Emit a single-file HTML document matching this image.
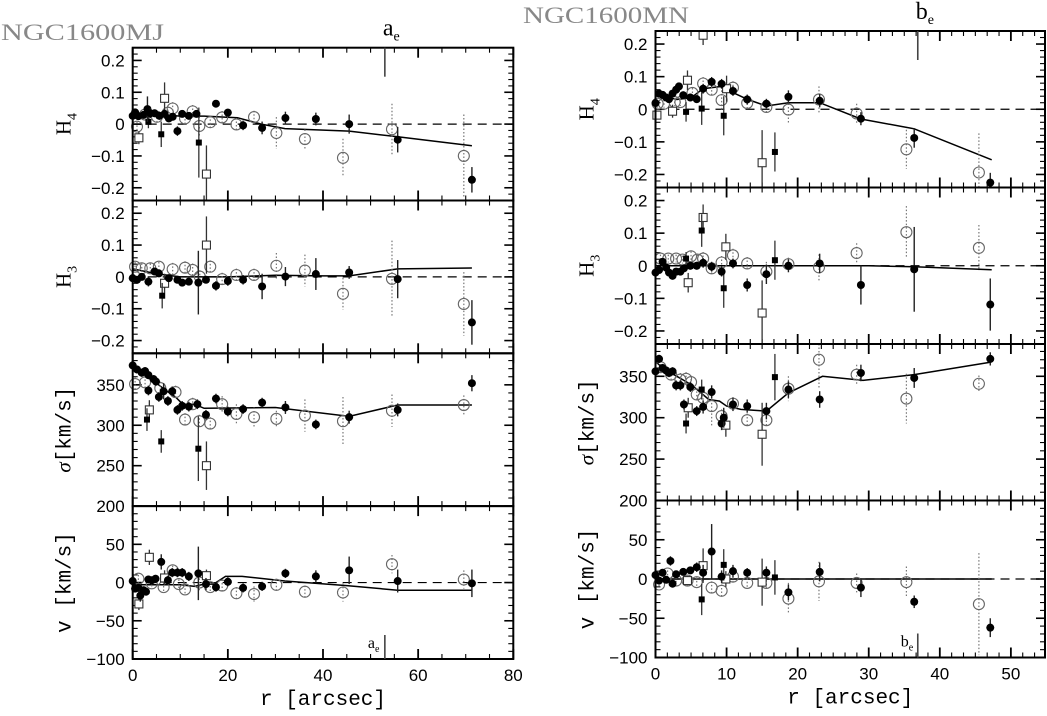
<!DOCTYPE html>
<html><head><meta charset="utf-8"><style>
body{margin:0;background:#fff}
svg{display:block}
</style></head><body>
<svg id="fig" width="1047" height="716" viewBox="0 0 1047 716" style="font-family:'Liberation Sans',sans-serif"></svg>
<script>
// ---- LEFT (NGC1600MJ) data: [r, value, err] ----
const LH4_filled=[[0,0.026,0.01],[0.5,0.037,0.01],[1.2,0.025,0.01],[2.3,0.029,0.012],[3.1,0.047,0.04],[3.7,0.034,0.015],[4.6,0.034,0.012],[5.6,0.026,0.012],[6.7,0.032,0.015],[7.6,0.018,0.012],[8.4,0.023,0.012],[9.4,-0.022,0.015],[10.4,0.032,0.01],[11.8,0.026,0.01],[13.4,0.032,0.01],[17.5,0.064,0.01],[20,0.036,0.012],[23.2,-0.004,0.015],[27.2,-0.012,0.02],[32.1,0.019,0.02],[38.5,0.016,0.02],[45.5,0,0.03],[55.7,-0.049,0.04],[71.3,-0.175,0.04]];
const LH4_fsq=[[3.3,0.007,0.02],[6,-0.032,0.04],[13.9,-0.058,0.11]];
const LH4_open=[[0.9,-0.008,0.015],[2.6,0.03,0.015],[5.1,0.023,0.02],[7.4,0.036,0.02],[8.4,0.049,0.02],[11,0.018,0.02],[12.6,0.04,0.02],[14,-0.006,0.03],[16.3,0.006,0.02],[18.8,0.021,0.02],[21.8,-0.001,0.02],[25.5,0.022,0.02],[30.2,-0.028,0.05],[36.2,-0.047,0.03],[44.2,-0.106,0.06],[54.5,-0.016,0.08],[69.6,-0.1,0.13]];
const LH4_osq=[[1.3,-0.043,0.02],[6.7,0.081,0.05],[15.5,-0.157,0.09]];
const LH4_model_r=[0,5,10,15,22,27,32,45.5,55.7,71.3];
const LH4_model_v=[0.03,0.03,0.025,0.025,0.02,0,-0.014,-0.022,-0.04,-0.068];

const LH3_filled=[[0,-0.004,0.01],[0.9,-0.009,0.01],[1.9,0,0.01],[3.3,-0.015,0.015],[4.6,0.017,0.01],[5.5,0.011,0.01],[7.6,-0.004,0.01],[9.4,-0.009,0.01],[10.4,-0.018,0.01],[11.8,-0.015,0.01],[13.8,-0.018,0.1],[15.4,-0.009,0.01],[17.5,-0.028,0.015],[20,-0.013,0.015],[23.2,-0.009,0.015],[27.2,-0.03,0.04],[32.1,0.001,0.03],[38.5,0.009,0.05],[45.5,0.014,0.02],[55.7,-0.007,0.06],[71.3,-0.143,0.07]];
const LH3_fsq=[[6.2,-0.059,0.04]];
const LH3_open=[[0.5,0.032,0.015],[1.9,0.027,0.015],[3.7,0.027,0.015],[5.5,0.032,0.015],[8.4,0.024,0.02],[11,0.029,0.02],[12.6,0.022,0.02],[14.1,0.001,0.02],[16.3,0.032,0.02],[18.8,-0.007,0.02],[21.8,0.006,0.02],[25.5,0.006,0.02],[30.2,0.035,0.04],[36.2,0.02,0.05],[44.2,-0.053,0.05],[54.5,-0.006,0.12],[69.6,-0.085,0.1]];
const LH3_osq=[[6.7,-0.02,0.03],[15.5,0.1,0.09]];
const LH3_model_r=[0,5,10,20,30,40,45.5,55.7,71.3];
const LH3_model_v=[0.025,0.01,0,0,0.005,0.003,0.003,0.025,0.028];

const LS_filled=[[0,374,5],[0.9,369,5],[1.9,365,5],[2.6,367,5],[3.3,362,5],[4.4,357,5],[4.9,354,5],[3.3,343,6],[5.5,335,6],[6.5,342,10],[7.4,330,6],[8.3,342,6],[9.4,319,6],[10.4,324,6],[11.8,323,6],[13.6,326,6],[15.4,313,6],[17.5,333,6],[20,317,6],[23.2,320,6],[27.2,328,6],[32.1,322,8],[38.5,301,6],[45.5,310,8],[55.7,319,8],[71.3,352,10]];
const LS_fsq=[[3,307,14],[6,280,14],[13.8,271,40]];
const LS_open=[[0.5,351,8],[2.6,353,8],[5.8,346,8],[9,341,8],[11,307,8],[12.6,326,8],[14,305,8],[16.3,302,8],[18.8,326,10],[21.8,314,12],[25.5,310,12],[30.2,308,10],[36.2,312,20],[44.2,305,30],[54.5,318,20],[69.6,325,12]];
const LS_osq=[[3.5,319,12],[15.5,250,30]];
const LS_model_r=[0,3,5,7,9,10.5,13,15,30,45.5,55.7,71.3];
const LS_model_v=[372,360,352,343,335,326,326,321,322,311,325,325];

const LV_filled=[[0,2,5],[0.5,-8,5],[1.2,-7,5],[1.6,-17,8],[2.3,-10,5],[2.8,-12,5],[3.3,4,5],[4,3,5],[4.8,5,5],[6,27,10],[7.4,3,6],[8.3,13,6],[9.4,13,6],[10.4,13,6],[11.8,8,6],[13.8,12,35],[15.4,-2,8],[17.5,-6,6],[20,1,6],[23.2,-7,6],[27.2,-5,6],[32.1,12,6],[38.5,8,8],[45.5,16,18],[55.7,2,15],[71.3,-1,18]];
const LV_open=[[1.2,5,5],[4,-1,5],[6.5,-6,6],[8.4,16,6],[9.7,-2,6],[11,-9,6],[14,0,10],[16.3,-6,6],[18.8,-4,8],[21.8,-14,8],[25.5,-15,10],[30.2,-3,8],[36.2,-12,8],[44.2,-13,12],[54.5,24,12],[69.6,4,12]];
const LV_osq=[[1.3,-28,8],[3.5,33,10],[6.7,6,10],[15.5,9,8]];
const LV_model_r=[0,5,10,13,15,17,19.5,23,32,45,55.7,71.3];
const LV_model_v=[-3,-3,-3,-5,-2,-2,8,8,2,-4,-10,-10];

// ---- RIGHT (NGC1600MN) data ----
const RH4_filled=[[0,0.019,0.01],[0.5,0.048,0.01],[1,0.044,0.01],[1.5,0.036,0.01],[1.9,0.031,0.01],[2.4,0.048,0.01],[2.9,0.06,0.01],[3.3,0.07,0.01],[3.9,0.043,0.012],[4.9,0.036,0.012],[5.8,0.031,0.012],[6.7,0.063,0.015],[7.9,0.084,0.015],[9.3,0.078,0.015],[10.9,0.056,0.015],[12.9,0.03,0.015],[15.6,0.017,0.015],[18.7,0.038,0.02],[23.1,0.026,0.02],[28.9,-0.029,0.02],[36.4,-0.088,0.03],[47.1,-0.225,0.03]];
const RH4_fsq=[[4.3,-0.008,0.03],[6.5,0.002,0.05],[9.6,-0.02,0.06],[16.8,-0.131,0.06]];
const RH4_open=[[0.3,0.017,0.012],[1.2,0.017,0.012],[2.7,0.022,0.012],[3.5,0.022,0.012],[5.2,0.05,0.015],[6.7,0.079,0.02],[7.9,0.06,0.02],[9.3,0.028,0.03],[10.9,0.066,0.02],[12.9,0.019,0.02],[15.6,0.007,0.02],[18.7,-0.001,0.04],[23,0.03,0.04],[28.3,-0.013,0.03],[35.3,-0.123,0.06],[45.5,-0.194,0.12]];
const RH4_osq=[[0.2,-0.018,0.01],[2.4,-0.006,0.02],[4.5,0.089,0.03],[6.7,0.227,0.03],[10,0.063,0.04],[15,-0.164,0.1]];
const RH4_model_r=[0,1,2,3,5,6.7,9.3,11,13,15.6,18.7,23.1,28.9,36.4,47.3];
const RH4_model_v=[0.05,0.045,0.035,0.03,0.035,0.063,0.07,0.05,0.03,0.01,0.02,0.02,-0.03,-0.06,-0.155];

const RH3_filled=[[0,-0.021,0.01],[0.5,-0.013,0.01],[1,0.012,0.01],[1.5,-0.006,0.01],[1.9,-0.021,0.01],[2.4,-0.031,0.01],[2.9,-0.018,0.01],[3.5,-0.018,0.01],[4,-0.008,0.01],[4.9,0,0.012],[5.8,0,0.012],[6.7,0.009,0.015],[7.9,-0.003,0.015],[9.3,-0.018,0.015],[10.9,0.007,0.015],[12.9,-0.059,0.02],[15.6,-0.026,0.03],[18.7,0,0.02],[23.1,0.007,0.03],[28.9,-0.059,0.06],[36.4,-0.011,0.13],[47.1,-0.119,0.08]];
const RH3_fsq=[[4.3,0.022,0.02],[6.5,0.108,0.05],[9.6,-0.069,0.06],[16.8,0.017,0.06]];
const RH3_open=[[0.7,0.022,0.012],[1.8,0.022,0.012],[2.9,0.022,0.012],[3.8,0.019,0.012],[5,0.029,0.015],[5.9,0.019,0.015],[6.7,0.022,0.02],[7.9,-0.008,0.02],[9.3,0.01,0.02],[10.9,0.032,0.02],[12.9,0.007,0.02],[15.6,-0.018,0.03],[18.7,0.005,0.02],[23,-0.005,0.04],[28.3,0.039,0.03],[35.3,0.103,0.08],[45.5,0.055,0.07]];
const RH3_osq=[[4.6,-0.052,0.03],[6.7,0.148,0.04],[9.9,0.058,0.04],[15,-0.145,0.1]];
const RH3_model_r=[0,2,5,10,20,30,36.4,47.3];
const RH3_model_v=[0,0,0,0,0,0,-0.003,-0.012];

const RS_filled=[[0,356,5],[0.5,371,5],[1,360,5],[1.5,357,5],[1.9,354,5],[2.4,356,5],[2.9,339,6],[3.5,339,6],[4,316,6],[4.9,337,6],[5.8,308,6],[6.7,313,8],[7.9,331,8],[9.3,293,8],[9.6,300,12],[10.9,316,8],[12.9,314,8],[15.6,308,10],[18.7,334,10],[23.1,322,10],[28.9,354,10],[36.4,348,12],[47.1,371,8]];
const RS_fsq=[[4.3,293,12],[6.5,334,12],[16.8,349,28]];
const RS_open=[[0.7,361,8],[2.2,352,8],[3.5,346,8],[4.3,347,8],[5,343,8],[5.8,328,8],[6.7,324,8],[7.9,314,25],[9.3,302,8],[10.9,317,8],[12.9,297,8],[15.6,297,8],[18.7,335,15],[23,370,35],[28.3,352,12],[35.3,323,30],[45.5,341,10]];
const RS_osq=[[4.6,312,12],[9.9,291,14],[15,280,38]];
const RS_model_r=[0,1,2,3,4,5,6,7.5,9,10,12,15.6,18.7,23.5,29.2,36.4,47.1];
const RS_model_v=[368,360,355,350,345,340,333,322,320,314,310,308,330,350,345,352,367];

const RV_filled=[[0,5,4],[0.5,-2,4],[1,8,4],[1.5,-1,4],[2.1,23,6],[2.4,-6,4],[2.9,6,4],[3.9,9,4],[4.9,11,4],[5.8,15,6],[6.7,8,10],[7.9,35,35],[9.3,3,8],[10.9,10,8],[12.9,8,6],[15.6,8,8],[18.7,-17,10],[23.1,9,12],[28.9,-11,12],[36.4,-29,8],[47.1,-62,12]];
const RV_fsq=[[6.5,-26,20],[9.6,18,20],[16.8,2,22]];
const RV_open=[[0.5,-7,4],[1.7,7,4],[2.9,-2,4],[4.5,-2,6],[5.8,-4,6],[7.9,-11,8],[9.3,-15,8],[10.9,3,8],[12.9,-5,6],[15.6,-5,8],[18.7,-25,20],[23,-3,25],[28.3,-5,12],[35.3,-4,20],[45.5,-32,65]];
const RV_osq=[[4.5,-2,6],[6.7,17,22],[9.9,0,10],[15,-4,30]];
const RV_model_r=[0,47.3];
const RV_model_v=[0,0];

const H_ticks=["0.2","0.1","0","−0.1","−0.2"];
const S_ticks=["350","300","250","200"];
const V_ticks=["50","0","−50","−100"];
const L_xticks=["0","20","40","60","80"];
const R_xticks=["0","10","20","30","40","50"];

const NS="http://www.w3.org/2000/svg";
const svg=document.getElementById('fig');
function mk(tag,attrs,parent){const e=document.createElementNS(NS,tag);for(const k in attrs)e.setAttribute(k,attrs[k]);(parent||svg).appendChild(e);return e;}
const SERIF="font-family:'Liberation Serif',serif";
const MONO="font-family:'Liberation Mono',monospace";

function drawPanel(P,name,ylab,ticks,yvals,ymajor,yminor,series,model,showX,xlabels,xvals){
  const g=mk('g',{});
  
  
  const X=r=>P.x0+(r-P.xmin)/(P.xmax-P.xmin)*(P.x1-P.x0);
  const Y=v=>P.y1-(v-P.ymin)/(P.ymax-P.ymin)*(P.y1-P.y0);
  if(P.ymin<0){const z=mk('line',{x1:P.x0,x2:P.x1,y1:Y(0),y2:Y(0),stroke:'#000','stroke-width':1.2,'stroke-dasharray':'9,6'},g);
    }
  for(let v=P.ymin;v<=P.ymax+1e-9;v+=yminor){
    const vv=Math.round(v/yminor)*yminor;
    const isMaj=Math.abs(vv/ymajor-Math.round(vv/ymajor))<1e-6;
    const L=isMaj?9:5;
    mk('line',{x1:P.x0,x2:P.x0+L,y1:Y(vv),y2:Y(vv),stroke:'#000','stroke-width':isMaj?1.6:1.1},g);
    mk('line',{x1:P.x1,x2:P.x1-L,y1:Y(vv),y2:Y(vv),stroke:'#000','stroke-width':isMaj?1.6:1.1},g);
  }
  for(let r=0;r<=P.xmax+1e-9;r+=P.xminor){
    const isMaj=Math.abs(r/P.xmajor-Math.round(r/P.xmajor))<1e-6;
    const L=isMaj?10:5;
    mk('line',{x1:X(r),x2:X(r),y1:P.y0,y2:P.y0+L,stroke:'#000','stroke-width':isMaj?1.8:1.1},g);
    mk('line',{x1:X(r),x2:X(r),y1:P.y1,y2:P.y1-L,stroke:'#000','stroke-width':isMaj?1.8:1.1},g);
  }
  ticks.forEach((t,i)=>{const tx=mk('text',{x:P.x0-8,y:Y(yvals[i])+6,'text-anchor':'end','font-size':17},g);tx.textContent=t;
    });
  if(showX){xlabels.forEach((t,i)=>{const tx=mk('text',{x:X(xvals[i]),y:P.y1+22,'text-anchor':'middle','font-size':17},g);tx.textContent=t;
    });}
  const yl=mk('text',{transform:`translate(${P.x0-62},${(P.y0+P.y1)/2}) rotate(-90)`,'text-anchor':'middle','font-size':21,style:SERIF},g);
  yl.innerHTML=ylab;
  
  const pts=model[0].map((r,i)=>X(r).toFixed(1)+','+Y(model[1][i]).toFixed(1)).join(' ');
  const ml=mk('polyline',{points:pts,fill:'none',stroke:'#000','stroke-width':1.5},g);
  
  const clipY=v=>Math.max(P.y0,Math.min(P.y1,v));
  function err(d,color,dash,w){const e=mk('line',{x1:X(d[0]),x2:X(d[0]),y1:clipY(Y(d[1]+d[2])),y2:clipY(Y(d[1]-d[2])),stroke:color,'stroke-width':w||1.3},g);if(dash)e.setAttribute('stroke-dasharray',dash);
    }
  (series.open||[]).forEach(d=>{err(d,'#777','1.5,2',1.2);const c=mk('circle',{cx:X(d[0]),cy:Y(d[1]),r:5.5,fill:'none',stroke:'#666','stroke-width':1.1},g);
    });
  (series.osq||[]).forEach(d=>{err(d,'#333',null,1.3);const c=mk('rect',{x:X(d[0])-4,y:Y(d[1])-4,width:8,height:8,fill:'#fff',stroke:'#333','stroke-width':1.1},g);
    });
  (series.fsq||[]).forEach(d=>{err(d,'#333',null,1.3);const c=mk('rect',{x:X(d[0])-3,y:Y(d[1])-3,width:6,height:6,fill:'#000'},g);
    });
  (series.filled||[]).forEach(d=>{err(d,'#222',null,1.4);const c=mk('circle',{cx:X(d[0]),cy:Y(d[1]),r:4,fill:'#000'},g);
    });
  const fr=mk('rect',{x:P.x0,y:P.y0,width:P.x1-P.x0,height:P.y1-P.y0,fill:'none',stroke:'#000','stroke-width':2},g);
  
  return {X,Y};
}

function figure(side){
  const L=side==='L';
  const x0=L?132.7:655.5,x1=L?513.3:1045,xmax=L?80:54.8;
  const ys=L?[47.7,200.5,353.3,506.1,659]:[31,187.5,344,500.5,657.5];
  const base={x0,x1,xmin:0,xmax,xmajor:L?20:10,xminor:L?5:(10/6)};
  const pref=L?'left':'right';
  const D=L?{h4:[LH4_filled,LH4_fsq,LH4_open,LH4_osq,[LH4_model_r,LH4_model_v]],h3:[LH3_filled,LH3_fsq,LH3_open,LH3_osq,[LH3_model_r,LH3_model_v]],s:[LS_filled,LS_fsq,LS_open,LS_osq,[LS_model_r,LS_model_v]],v:[LV_filled,[],LV_open,LV_osq,[LV_model_r,LV_model_v]]}
           :{h4:[RH4_filled,RH4_fsq,RH4_open,RH4_osq,[RH4_model_r,RH4_model_v]],h3:[RH3_filled,RH3_fsq,RH3_open,RH3_osq,[RH3_model_r,RH3_model_v]],s:[RS_filled,RS_fsq,RS_open,RS_osq,[RS_model_r,RS_model_v]],v:[RV_filled,RV_fsq,RV_open,RV_osq,[RV_model_r,RV_model_v]]};
  const xl=L?L_xticks:R_xticks, xv=xl.map(Number);
  const ser=a=>({filled:a[0],fsq:a[1],open:a[2],osq:a[3]});
  const hv=[0.2,0.1,0,-0.1,-0.2];
  const p1=drawPanel(Object.assign({},base,{y0:ys[0],y1:ys[1],ymin:-0.24,ymax:0.24}),pref+'-h4-panel','H<tspan font-size="14" dy="6">4</tspan>',H_ticks,hv,0.1,0.02,ser(D.h4),D.h4[4],false);
  drawPanel(Object.assign({},base,{y0:ys[1],y1:ys[2],ymin:-0.24,ymax:0.24}),pref+'-h3-panel','H<tspan font-size="14" dy="6">3</tspan>',H_ticks,hv,0.1,0.02,ser(D.h3),D.h3[4],false);
  drawPanel(Object.assign({},base,{y0:ys[2],y1:ys[3],ymin:200,ymax:389}),pref+'-sigma-panel','<tspan font-style="italic">σ</tspan><tspan style="font-family:\'Liberation Mono\',monospace">[km/s]</tspan>',S_ticks,[350,300,250,200],50,10,ser(D.s),D.s[4],false);
  drawPanel(Object.assign({},base,{y0:ys[3],y1:ys[4],ymin:-100,ymax:100}),pref+'-velocity-panel','<tspan style="font-family:\'Liberation Mono\',monospace">v [km/s]</tspan>',V_ticks,[50,0,-50,-100],50,10,ser(D.v),D.v[4],true,xl,xv);
  const xt=mk('text',{x:(x0+x1)/2,y:ys[4]+46,'text-anchor':'middle','font-size':21,style:MONO});
  xt.textContent='r [arcsec]';
  
  const tt=mk('text',{x:L?1:523,y:L?40:23,'font-size':23,style:SERIF,fill:'#888',textLength:L?163:166,lengthAdjust:'spacingAndGlyphs'});
  tt.textContent=L?'NGC1600MJ':'NGC1600MN';
  
  const re=L?53:36.9, lbl=L?'a':'b';
  const xr=p1.X(re);
  const t1=mk('line',{x1:xr,x2:xr,y1:ys[0],y2:ys[0]+29,stroke:'#444','stroke-width':1.6});
  
  const t2=mk('text',{x:xr-2,y:ys[0]-12,'font-size':24,style:SERIF});
  t2.innerHTML=lbl+'<tspan font-size="14" dy="5">e</tspan>';
  
  const b1=mk('line',{x1:xr,x2:xr,y1:ys[4]-24,y2:ys[4],stroke:'#444','stroke-width':1.6});
  
  const b2=mk('text',{x:xr-17,y:ys[4]-11,'font-size':16,style:SERIF});
  b2.innerHTML=lbl+'<tspan font-size="10" dy="4">e</tspan>';
  
}
figure('L');figure('R');
</script>
</body></html>
